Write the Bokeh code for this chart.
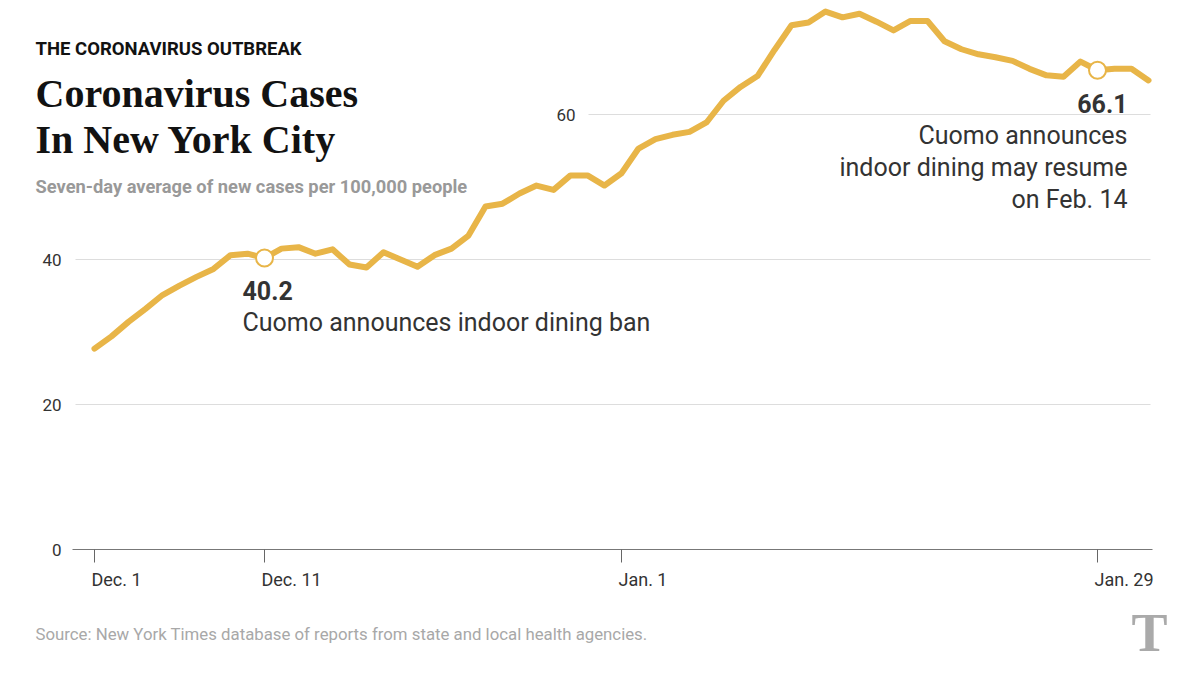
import pandas as pd
from bokeh.plotting import figure
from bokeh.models import Range1d, FixedTicker, Label, ColumnDataSource
from bokeh.embed import file_html
from bokeh.resources import INLINE

# ---------------- data ----------------
start_date = "2020-12-01"
values = [27.7, 29.4, 31.4, 33.2, 35.1, 36.4, 37.6, 38.7, 40.6, 40.8, 40.2,
          41.5, 41.7, 40.8, 41.4, 39.3, 38.9, 41.0, 40.0, 39.0, 40.6, 41.5,
          43.3, 47.3, 47.7, 49.1, 50.2, 49.6, 51.6, 51.6, 50.2, 51.9,
          55.3, 56.6, 57.2, 57.6, 58.9, 61.9, 63.8, 65.3, 68.9, 72.3, 72.7,
          74.2, 73.4, 73.9, 72.8, 71.6, 72.9, 72.9, 70.1, 69.0, 68.3, 67.9,
          67.4, 66.3, 65.4, 65.2, 67.3, 66.1, 66.3, 66.3, 64.7]
tick_dates = ["2020-12-01", "2020-12-11", "2021-01-01", "2021-01-29"]
tick_labels = ["Dec. 1", "Dec. 11", "Jan. 1", "Jan. 29"]
y_ticks = [0, 20, 40, 60]
event_dates = ["2020-12-11", "2021-01-29"]
event_texts = [["Cuomo announces indoor dining ban"],
               ["Cuomo announces", "indoor dining may resume", "on Feb. 14"]]

dates = pd.date_range(start_date, periods=len(values), freq="D")
day = [(d - dates[0]).days for d in dates]
tick_days = [(pd.Timestamp(t) - dates[0]).days for t in tick_dates]
event_days = [(pd.Timestamp(t) - dates[0]).days for t in event_dates]
event_vals = [values[d] for d in event_days]

# ---------------- layout (canvas pixels) ----------------
W, H = 1192, 668
PLOT_L, PLOT_R, BASE_Y = 75, 1150, 549
DAY0_PX, PX_PER_DAY = 94, 17.0
PX_PER_UNIT = 7.25


def X(px):
    return (px - DAY0_PX) / PX_PER_DAY


def Y(py):
    return (BASE_Y - py) / PX_PER_UNIT


def PX(d):
    return DAY0_PX + d * PX_PER_DAY


GOLD = "#E8B548"
DARK = "#333333"

# frame covers the whole canvas; axes are pinned inside it
p = figure(width=W, height=H, x_range=Range1d(X(0), X(W)), y_range=Range1d(Y(H), Y(0)),
           output_backend="svg", toolbar_location=None,
           min_border_left=0, min_border_right=0, min_border_top=0, min_border_bottom=0)
p.outline_line_color = None
p.background_fill_color = "white"
p.border_fill_color = "white"
p.xgrid.visible = False
p.ygrid.visible = False

# x axis (labels are drawn left-aligned below, as in the reference)
xa = p.xaxis[0]
xa.fixed_location = 0
xa.bounds = (X(72), X(1152))
xa.ticker = FixedTicker(ticks=tick_days)
xa.axis_line_color = "#777777"
xa.axis_line_width = 1
xa.major_tick_line_color = "#666666"
xa.major_tick_in = 0
xa.major_tick_out = 13
xa.minor_tick_line_color = None
xa.major_label_text_color = None

# y axis (60 label moved next to its shortened grid line)
ya = p.yaxis[0]
ya.fixed_location = X(PLOT_L)
ya.ticker = FixedTicker(ticks=y_ticks[:-1])
ya.axis_line_color = None
ya.major_tick_line_color = None
ya.minor_tick_line_color = None
ya.major_tick_out = 0
ya.major_tick_in = 0
ya.major_label_standoff = 14
ya.major_label_text_font = "Roboto"
ya.major_label_text_font_size = "17px"
ya.major_label_text_color = DARK

# grid lines
g_y = y_ticks[1:]
g_x0 = [X(PLOT_L), X(PLOT_L), X(588)]
p.segment(x0=g_x0, y0=g_y, x1=[X(PLOT_R)] * len(g_y), y1=g_y, line_color="#dddddd", line_width=1)

# data line
src = ColumnDataSource(dict(day=day, value=values))
p.line(x="day", y="value", source=src, line_color=GOLD, line_width=6,
       line_join="round", line_cap="round")
p.scatter(x=event_days, y=event_vals, size=17, fill_color="white", line_color=GOLD, line_width=2)


# text placed in canvas pixels
def lab(x, y, text, size="25px", bold=False, align="left", color=DARK, font="Roboto"):
    p.add_layout(Label(x=x, y=y, x_units="canvas", y_units="canvas", text=text,
                       text_font=font, text_font_size=size,
                       text_font_style="bold" if bold else "normal", text_color=color,
                       text_align=align, text_baseline="middle"))


# x tick labels, left-aligned at their ticks
for d, t in zip(tick_days, tick_labels):
    lab(PX(d) - 3, 579, t, size="18px")

lab(575, 114, str(y_ticks[-1]), size="17px", align="right")

lab(242, 290, f"{event_vals[0]:.1f}", size="25px", bold=True)
for i, t in enumerate(event_texts[0]):
    lab(242, 322 + 32 * i, t)
lab(1127, 103, f"{event_vals[1]:.1f}", size="25px", bold=True, align="right")
for i, t in enumerate(event_texts[1]):
    lab(1127, 135 + 32 * i, t, align="right")

# titles
lab(35, 48, "THE CORONAVIRUS OUTBREAK", size="18.5px", bold=True, color="#121212")
lab(35, 93, "Coronavirus Cases", size="40px", bold=True, color="#121212", font="Liberation Serif")
lab(35, 139, "In New York City", size="40px", bold=True, color="#121212", font="Liberation Serif")
lab(35, 186, "Seven-day average of new cases per 100,000 people", size="18.3px", bold=True,
    color="#999999")

# footer
lab(35, 633, "Source: New York Times database of reports from state and local health agencies.",
    size="16.8px", color="#a8a8a8")
lab(1149, 632, "T", size="54px", bold=True, color="#aaaaaa", align="center", font="Liberation Serif")

open("out.html", "w").write(file_html(p, INLINE))
